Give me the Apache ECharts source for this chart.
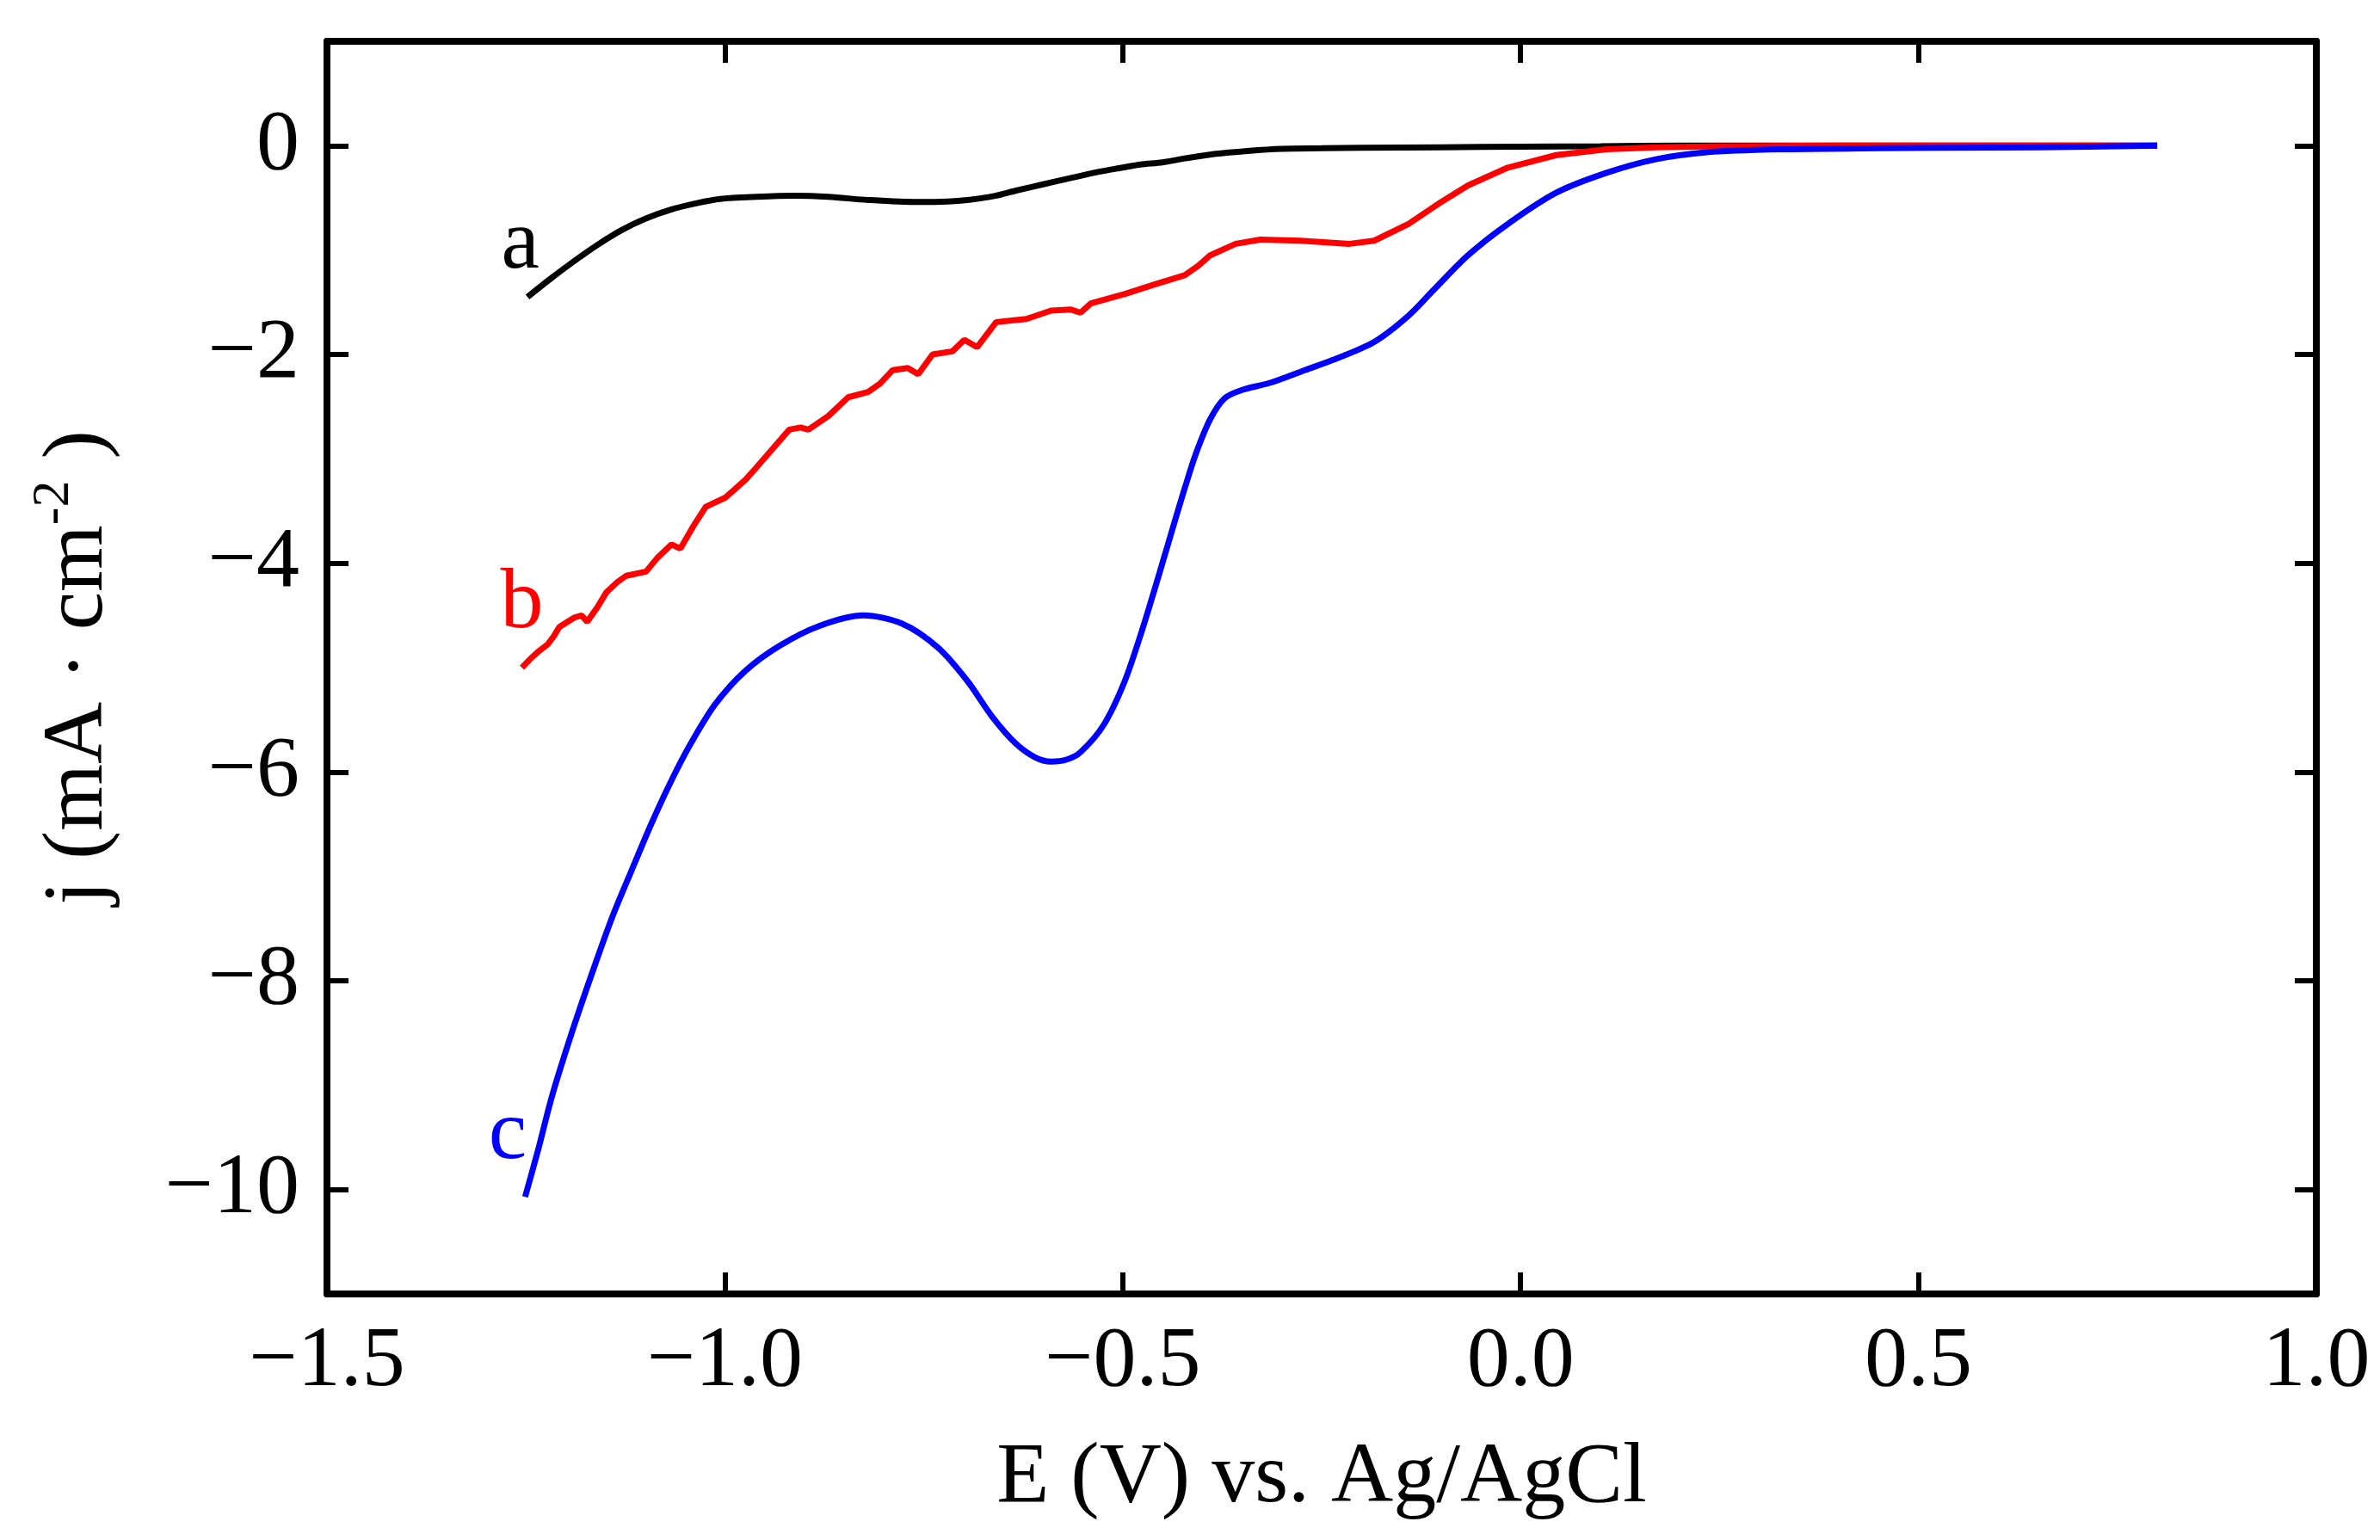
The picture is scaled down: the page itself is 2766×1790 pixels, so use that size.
<!DOCTYPE html>
<html>
<head>
<meta charset="utf-8">
<title>LSV curves</title>
<script src="https://cdn.jsdelivr.net/npm/echarts@6/dist/echarts.min.js"></script>
<style>
  html, body { margin: 0; padding: 0; background: #fff; }
  #main { width: 2766px; height: 1790px; }
</style>
</head>
<body>
<div id="main"></div>
<script>
// curve a (black)
var curveA = [
    [-1.248, -1.45], [-1.22, -1.28], [-1.192, -1.12], [-1.16, -0.95], [-1.13, -0.81],
    [-1.10, -0.70], [-1.067, -0.61], [-1.035, -0.55], [-1.006, -0.51], [-0.96, -0.49],
    [-0.913, -0.48], [-0.87, -0.49], [-0.82, -0.52], [-0.757, -0.54], [-0.72, -0.535],
    [-0.695, -0.52], [-0.66, -0.48], [-0.634, -0.43], [-0.60, -0.37], [-0.571, -0.32],
    [-0.53, -0.25], [-0.50, -0.21], [-0.478, -0.18], [-0.45, -0.16], [-0.42, -0.12],
    [-0.385, -0.08], [-0.343, -0.05], [-0.30, -0.03], [-0.25, -0.025], [-0.20, -0.02],
    [-0.10, -0.015], [0.0, -0.01], [0.1, -0.005], [0.2, 0], [0.4, 0], [0.6, 0], [0.8, 0]
]
// curve b (red)
var curveB = [
    [-1.255, -5.00], [-1.245, -4.92], [-1.235, -4.85], [-1.223, -4.78], [-1.215, -4.70],
    [-1.208, -4.61], [-1.189, -4.52], [-1.180, -4.50], [-1.173, -4.56], [-1.160, -4.42],
    [-1.149, -4.28], [-1.135, -4.18], [-1.124, -4.12], [-1.099, -4.08], [-1.085, -3.95],
    [-1.067, -3.82], [-1.056, -3.86], [-1.040, -3.65], [-1.024, -3.46], [-0.999, -3.37],
    [-0.974, -3.20], [-0.960, -3.08], [-0.944, -2.94], [-0.919, -2.72], [-0.905, -2.70],
    [-0.895, -2.72], [-0.870, -2.59], [-0.845, -2.41], [-0.820, -2.36], [-0.805, -2.28],
    [-0.789, -2.15], [-0.770, -2.13], [-0.757, -2.19], [-0.739, -2.00], [-0.714, -1.97],
    [-0.699, -1.86], [-0.683, -1.93], [-0.659, -1.69], [-0.621, -1.66], [-0.590, -1.58],
    [-0.565, -1.57], [-0.553, -1.60], [-0.540, -1.51], [-0.497, -1.42], [-0.460, -1.33],
    [-0.422, -1.24], [-0.405, -1.15], [-0.390, -1.05], [-0.358, -0.94], [-0.327, -0.90],
    [-0.277, -0.91], [-0.215, -0.94], [-0.184, -0.91], [-0.141, -0.75], [-0.104, -0.56],
    [-0.066, -0.38], [-0.016, -0.21], [0.045, -0.09], [0.108, -0.035], [0.170, -0.015],
    [0.25, -0.005], [0.4, 0], [0.6, 0], [0.8, 0]
]
// curve c (blue)
var curveC = [
    [-1.251, -10.07], [-1.235, -9.63], [-1.217, -9.10], [-1.192, -8.49], [-1.167, -7.93],
    [-1.142, -7.40], [-1.117, -6.94], [-1.092, -6.49], [-1.067, -6.08], [-1.043, -5.73],
    [-1.012, -5.35], [-0.974, -5.03], [-0.931, -4.79], [-0.881, -4.60], [-0.826, -4.50],
    [-0.777, -4.58], [-0.732, -4.81], [-0.695, -5.13], [-0.664, -5.47], [-0.634, -5.73],
    [-0.610, -5.86], [-0.590, -5.90], [-0.570, -5.88], [-0.553, -5.81], [-0.524, -5.55],
    [-0.498, -5.14], [-0.476, -4.65], [-0.454, -4.10], [-0.437, -3.66], [-0.422, -3.28],
    [-0.408, -2.95], [-0.390, -2.62], [-0.372, -2.42], [-0.350, -2.34], [-0.314, -2.27],
    [-0.271, -2.15], [-0.235, -2.05], [-0.184, -1.88], [-0.141, -1.63], [-0.109, -1.38],
    [-0.066, -1.05], [-0.016, -0.75], [0.045, -0.45], [0.108, -0.26], [0.170, -0.13],
    [0.231, -0.065], [0.325, -0.035], [0.45, -0.025], [0.522, -0.02], [0.65, -0.015], [0.8, 0]
]
var curveNames = ['a', 'b', 'c']
var curveColors = ['#000000', '#ff0000', '#0000ff']
var namePos = [[-1.257, -0.955], [-1.255, -4.40], [-1.273, -9.48]]
var yTicks = [0, -2, -4, -6, -8, -10]

var font = "'Liberation Serif', 'Times New Roman', serif"

function minus(s) {
    return s.replace('-', '\u2212')
}

var mCharts = echarts.init(document.getElementById('main'))

var axisLine = { show: true, onZero: false, lineStyle: { color: '#000', width: 8 } }
var axisTick = { show: true, inside: true, length: 25, lineStyle: { color: '#000', width: 6 } }

var series = [curveA, curveB, curveC].map(function (d, i) {
    return {
        name: curveNames[i],
        type: 'line',
        data: d,
        showSymbol: false,
        smooth: i === 1 ? false : 0.3,
        lineStyle: { color: curveColors[i], width: 7 },
        itemStyle: { color: curveColors[i] },
        z: 2 + i,
        markPoint: {
            symbol: 'circle',
            symbolSize: 0,
            label: {
                show: true,
                position: 'inside',
                formatter: curveNames[i],
                color: curveColors[i],
                fontFamily: font,
                fontSize: 100
            },
            data: [{ coord: namePos[i] }]
        }
    }
})

var option = {
    animation: false,
    backgroundColor: '#fff',
    grid: { left: 380, right: 74, top: 48, bottom: 286 },
    xAxis: [
        {
            type: 'value',
            min: -1.5, max: 1.0, interval: 0.5,
            position: 'bottom',
            name: 'E (V) vs. Ag/AgCl',
            nameLocation: 'middle',
            nameGap: 165,
            nameTextStyle: { fontFamily: font, fontSize: 100, color: '#000' },
            axisLine: axisLine,
            axisTick: axisTick,
            splitLine: { show: false },
            axisLabel: {
                margin: 30,
                fontFamily: font, fontSize: 100, color: '#000',
                formatter: function (v) { return minus(v.toFixed(1)) }
            }
        },
        {
            type: 'value',
            min: -1.5, max: 1.0, interval: 0.5,
            position: 'top',
            axisLine: axisLine,
            axisTick: axisTick,
            splitLine: { show: false },
            axisLabel: { show: false }
        }
    ],
    yAxis: [
        {
            type: 'value',
            min: -11, max: 1,
            position: 'left',
            name: '{n|j (mA \u00b7 cm}{s|-2}{n| )}',
            nameLocation: 'middle',
            nameGap: 228,
            nameRotate: 90,
            nameTextStyle: {
                fontFamily: font, color: '#000',
                rich: {
                    n: { fontFamily: font, fontSize: 100, color: '#000', lineHeight: 120 },
                    s: { fontFamily: font, fontSize: 62, color: '#000', verticalAlign: 'top', lineHeight: 70 }
                }
            },
            axisLine: axisLine,
            axisTick: Object.assign({}, axisTick, { customValues: yTicks }),
            splitLine: { show: false },
            axisLabel: {
                margin: 32,
                customValues: yTicks,
                fontFamily: font, fontSize: 100, color: '#000',
                formatter: function (v) { return minus(String(v)) }
            }
        },
        {
            type: 'value',
            min: -11, max: 1,
            position: 'right',
            axisLine: axisLine,
            axisTick: Object.assign({}, axisTick, { customValues: yTicks }),
            splitLine: { show: false },
            axisLabel: { show: false }
        }
    ],
    series: series
}
mCharts.setOption(option)
</script>
</body>
</html>
